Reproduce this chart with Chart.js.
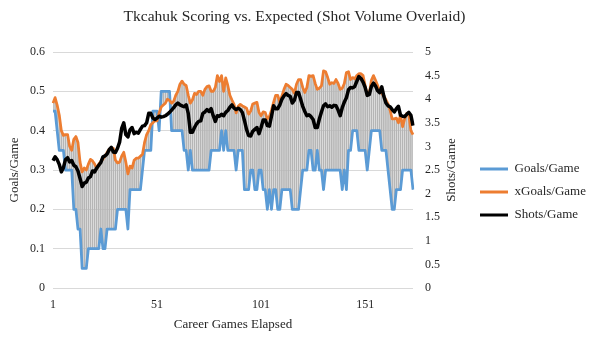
<!DOCTYPE html>
<html>
<head>
<meta charset="utf-8">
<script src="https://cdn.jsdelivr.net/npm/chart.js@4/dist/chart.umd.min.js"></script>
<style>
  html, body { margin: 0; padding: 0; background: #fff; }
  #wrap { width: 589px; height: 342px; }
</style>
</head>
<body>
<div id="wrap"><canvas id="scoringChart" width="589" height="342"></canvas></div>
<script>
// rolling per-game rates over the career, one value per game
const goalsPerGame = [
  0.45, 0.45, 0.4, 0.35, 0.35, 0.35, 0.3, 0.3, 0.3, 0.3,
  0.2, 0.2, 0.15, 0.15, 0.05, 0.05, 0.05, 0.1, 0.1, 0.1,
  0.1, 0.1, 0.1, 0.15, 0.1, 0.1, 0.15, 0.15, 0.15, 0.15,
  0.15, 0.2, 0.2, 0.2, 0.2, 0.2, 0.15, 0.25, 0.25, 0.25,
  0.25, 0.25, 0.25, 0.3, 0.35, 0.35, 0.35, 0.35, 0.45, 0.45,
  0.45, 0.4, 0.5, 0.5, 0.5, 0.5, 0.5, 0.4, 0.4, 0.4,
  0.4, 0.4, 0.4, 0.35, 0.35, 0.3, 0.35, 0.3, 0.3, 0.3,
  0.3, 0.3, 0.3, 0.3, 0.3, 0.3, 0.35, 0.35, 0.35, 0.35,
  0.35, 0.4, 0.35, 0.4, 0.35, 0.35, 0.35, 0.35, 0.3, 0.35,
  0.35, 0.35, 0.25, 0.25, 0.25, 0.3, 0.3, 0.25, 0.25, 0.3,
  0.3, 0.25, 0.25, 0.2, 0.25, 0.2, 0.25, 0.25, 0.2, 0.2,
  0.25, 0.25, 0.25, 0.25, 0.25, 0.2, 0.2, 0.2, 0.2, 0.25,
  0.3, 0.3, 0.3, 0.35, 0.35, 0.3, 0.3, 0.35, 0.3, 0.3,
  0.25, 0.3, 0.3, 0.3, 0.3, 0.3, 0.3, 0.3, 0.3, 0.25,
  0.3, 0.25, 0.35, 0.35, 0.4, 0.4, 0.4, 0.35, 0.35, 0.35,
  0.35, 0.3, 0.35, 0.4, 0.4, 0.4, 0.4, 0.4, 0.35, 0.35,
  0.35, 0.3, 0.25, 0.2, 0.2, 0.25, 0.25, 0.25, 0.3, 0.3,
  0.3, 0.3, 0.3, 0.25
];

const xGoalsPerGame = [
  0.47, 0.484, 0.465, 0.44, 0.40, 0.388, 0.39, 0.39, 0.36, 0.35,
  0.378, 0.385, 0.37, 0.32, 0.295, 0.305, 0.30, 0.315, 0.327, 0.323,
  0.315, 0.305, 0.315, 0.322, 0.328, 0.335, 0.345, 0.353, 0.356, 0.355,
  0.325, 0.318, 0.32, 0.335, 0.345, 0.32, 0.29, 0.31, 0.305, 0.325,
  0.33, 0.33, 0.335, 0.34, 0.37, 0.39, 0.40, 0.415, 0.42, 0.425,
  0.425, 0.445, 0.46, 0.465, 0.47, 0.48, 0.477, 0.47, 0.475, 0.49,
  0.50, 0.518, 0.526, 0.518, 0.515, 0.49, 0.47, 0.478, 0.495, 0.492,
  0.50, 0.50, 0.49, 0.505, 0.512, 0.514, 0.50, 0.50, 0.51, 0.54,
  0.525, 0.54, 0.50, 0.534, 0.515, 0.49, 0.478, 0.467, 0.445, 0.462,
  0.467, 0.463, 0.46, 0.457, 0.442, 0.45, 0.468, 0.47, 0.472, 0.446,
  0.438, 0.448, 0.446, 0.43, 0.436, 0.452, 0.472, 0.49, 0.49, 0.472,
  0.488, 0.505, 0.518, 0.515, 0.51, 0.505, 0.495, 0.518, 0.53, 0.53,
  0.51, 0.497, 0.51, 0.54, 0.538, 0.54, 0.52, 0.505, 0.508, 0.514,
  0.552, 0.55, 0.535, 0.518, 0.522, 0.52, 0.53, 0.52, 0.505, 0.508,
  0.52, 0.548, 0.55, 0.53, 0.535, 0.532, 0.54, 0.545, 0.545, 0.54,
  0.515, 0.49, 0.495, 0.528, 0.54, 0.528, 0.515, 0.502, 0.495, 0.488,
  0.478, 0.468, 0.452, 0.43, 0.43, 0.432, 0.42, 0.44, 0.41, 0.43,
  0.444, 0.44, 0.40, 0.39
];

const shotsPerGame = [
  2.70, 2.78, 2.72, 2.62, 2.46, 2.55, 2.72, 2.76, 2.67, 2.70,
  2.60, 2.57, 2.48, 2.32, 2.15, 2.22, 2.24, 2.33, 2.36, 2.48,
  2.46, 2.54, 2.60, 2.66, 2.78, 2.80, 2.84, 2.93, 2.98, 2.88,
  2.87, 2.96, 3.09, 3.38, 3.50, 3.25, 3.20, 3.35, 3.40, 3.27,
  3.30, 3.28, 3.36, 3.43, 3.44, 3.50, 3.70, 3.70, 3.60, 3.57,
  3.60, 3.64, 3.62, 3.63, 3.65, 3.68, 3.72, 3.77, 3.82, 3.88,
  3.92, 3.88, 3.86, 3.84, 3.88, 3.70, 3.30, 3.30, 3.40, 3.48,
  3.53, 3.54, 3.70, 3.73, 3.78, 3.74, 3.80, 3.65, 3.53, 3.65,
  3.64, 3.68, 3.65, 3.72, 3.76, 3.83, 3.88, 3.81, 3.78, 3.81,
  3.78, 3.72, 3.55, 3.36, 3.23, 3.22, 3.32, 3.36, 3.40, 3.27,
  3.40, 3.56, 3.56, 3.44, 3.43, 3.64, 3.86, 3.80, 3.80, 3.88,
  4.00, 4.07, 4.12, 4.08, 4.06, 3.92, 3.98, 4.14, 4.14, 4.00,
  3.85, 3.74, 3.65, 3.67, 3.63, 3.57, 3.40, 3.40, 3.58, 3.73,
  3.86, 3.90, 3.84, 3.86, 3.83, 3.87, 3.86, 3.77, 3.65, 3.82,
  3.94, 4.03, 4.20, 4.25, 4.24, 4.27, 4.38, 4.48, 4.44, 4.36,
  4.25, 4.08, 4.10, 4.27, 4.34, 4.28, 4.18, 4.14, 4.26, 4.06,
  3.92, 3.86, 3.84, 3.78, 3.73, 3.80, 3.85, 3.66, 3.64, 3.63,
  3.68, 3.72, 3.66, 3.44
];

// career game number for each point
const games = goalsPerGame.map((_, i) => String(i + 1));
const xTickLabels = ['1', '51', '101', '151'];

const SERIF = "'Palatino Linotype', 'Book Antiqua', Palatino, 'Liberation Serif', serif";
const TEXT = '#262626';

// plain numbers on the axes: "5", "4.5", "0.6"
const plainNumber = (v) => String(Math.round(v * 100) / 100);

// secondary axis title reads bottom-to-top like the primary one
const rightTitle = {
  id: 'rightTitle',
  afterDraw(chart) {
    const scale = chart.scales.y2;
    const { ctx, chartArea } = chart;
    ctx.save();
    ctx.translate(scale.left + 39, (chartArea.top + chartArea.bottom) / 2);
    ctx.rotate(-Math.PI / 2);
    ctx.font = `13px ${SERIF}`;
    ctx.fillStyle = TEXT;
    ctx.textAlign = 'center';
    ctx.textBaseline = 'middle';
    ctx.fillText('Shots/Game', 0, 0);
    ctx.restore();
  },
};

function initScoringChart() {
  const canvas = document.getElementById('scoringChart');
  if (!canvas || typeof Chart === 'undefined') return;

  new Chart(canvas, {
    data: {
      labels: games,
      datasets: [
        {
          type: 'line',
          label: 'Goals/Game',
          data: goalsPerGame,
          borderColor: '#5B9BD5',
          backgroundColor: '#5B9BD5',
          borderWidth: 2.75,
          pointRadius: 0,
          tension: 0,
          borderJoinStyle: 'round',
          yAxisID: 'y',
          order: 2,
        },
        {
          type: 'line',
          label: 'xGoals/Game',
          data: xGoalsPerGame,
          borderColor: '#ED7D31',
          backgroundColor: '#ED7D31',
          borderWidth: 2.75,
          pointRadius: 0,
          tension: 0,
          borderJoinStyle: 'round',
          yAxisID: 'y',
          order: 1,
        },
        {
          type: 'line',
          label: 'Shots/Game',
          data: shotsPerGame,
          borderColor: '#000000',
          backgroundColor: '#000000',
          borderWidth: 3.5,
          pointRadius: 0,
          tension: 0,
          borderJoinStyle: 'round',
          yAxisID: 'y2',
          order: 0,
        },
        {
          // high-low lines between goals and expected goals
          type: 'bar',
          label: 'gap',
          data: goalsPerGame.map((g, i) => [g, xGoalsPerGame[i]]),
          backgroundColor: '#b5b5b5',
          barThickness: 1,
          yAxisID: 'y',
          order: 3,
        },
      ],
    },
    options: {
      responsive: false,
      animation: false,
      events: [],
      layout: { padding: { left: 0, right: 0, top: 0, bottom: 0 } },
      plugins: {
        title: {
          display: true,
          text: 'Tkcahuk Scoring vs. Expected (Shot Volume Overlaid)',
          color: TEXT,
          font: { family: SERIF, size: 15.5, weight: 'normal' },
          padding: { top: 8, bottom: 25.4 },
        },
        legend: {
          position: 'right',
          maxWidth: 119,
          title: { display: true, text: '', font: { size: 12 }, padding: { top: 27.6, bottom: 0 } },
          labels: {
            color: TEXT,
            font: { family: SERIF, size: 13 },
            boxWidth: 28,
            boxHeight: 3,
            padding: 10,
            filter: (item) => item.datasetIndex < 3,
            sort: (a, b) => a.datasetIndex - b.datasetIndex,
            generateLabels: (chart) =>
              Chart.defaults.plugins.legend.labels.generateLabels(chart).map((l) => ({ ...l, lineWidth: 0 })),
          },
        },
        tooltip: { enabled: false },
      },
      scales: {
        x: {
          type: 'category',
          offset: false,
          grid: { display: false },
          border: { display: false },
          ticks: {
            autoSkip: false,
            maxRotation: 0,
            padding: 2,
            color: TEXT,
            font: { family: SERIF, size: 12 },
            callback: (val, i) => (xTickLabels.includes(games[i]) ? games[i] : ''),
          },
          title: {
            display: true,
            text: 'Career Games Elapsed',
            color: TEXT,
            font: { family: SERIF, size: 13 },
            padding: { top: 0, bottom: 10 },
          },
          afterFit: (scale) => { scale.height = 54; },
        },
        y: {
          position: 'left',
          min: 0,
          max: 0.6,
          ticks: {
            stepSize: 0.1,
            padding: 8,
            color: TEXT,
            font: { family: SERIF, size: 12 },
            callback: plainNumber,
          },
          grid: { color: '#d9d9d9', lineWidth: 1, drawTicks: false },
          border: { display: false },
          title: {
            display: true,
            text: 'Goals/Game',
            color: TEXT,
            font: { family: SERIF, size: 13 },
            padding: { top: 7, bottom: 0 },
          },
          afterFit: (scale) => { scale.width = 53; },
        },
        y2: {
          position: 'right',
          min: 0,
          max: 5,
          ticks: {
            stepSize: 0.5,
            padding: 12,
            color: TEXT,
            font: { family: SERIF, size: 12 },
            callback: plainNumber,
          },
          grid: { display: false, drawTicks: false },
          border: { display: false },
          afterFit: (scale) => { scale.width = 57; },
        },
      },
    },
    plugins: [rightTitle],
  });
}

document.addEventListener('DOMContentLoaded', initScoringChart);
</script>
</body>
</html>
